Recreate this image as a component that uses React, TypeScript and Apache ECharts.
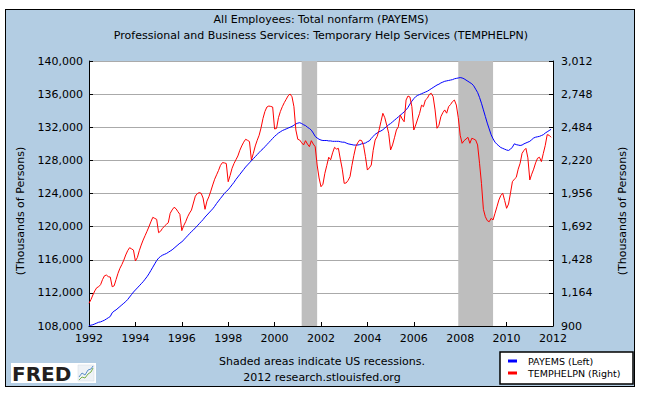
import React, { useEffect, useRef } from 'react';
import * as echarts from 'echarts';

const START_YEAR = 1992;

// PAYEMS, thousands of persons, monthly Jan 1992 .. Dec 2011 (left axis)
const payemsMonthly = [
  108050, 108100, 108150, 108250, 108350, 108450, 108500, 108600, 108700, 108850, 109000, 109150,
  109600, 109800, 109950, 110150, 110350, 110550, 110750, 110950, 111200, 111500, 111800, 112100,
  112350, 112600, 112850, 113100, 113350, 113650, 113950, 114300, 114700, 115100, 115500, 115900,
  116200, 116400, 116550, 116650, 116750, 116900, 117050, 117200, 117400, 117600, 117800, 118000,
  118150, 118400, 118650, 118900, 119150, 119400, 119600, 119850, 120100, 120350, 120600, 120850,
  121150, 121400, 121650, 121900, 122150, 122450, 122800, 123100, 123400, 123700, 124000, 124250,
  124450, 124750, 125050, 125350, 125700, 126000, 126300, 126600, 126900, 127200, 127450, 127700,
  127950, 128200, 128450, 128700, 128950, 129200, 129400, 129650, 129900, 130150, 130400, 130650,
  130900, 131100, 131300, 131450, 131600, 131700, 131800, 131900, 132000, 132100, 132250, 132400,
  132500, 132550, 132450, 132300, 132200, 132000, 131850, 131650, 131300, 130900, 130700, 130550,
  130450, 130400, 130400, 130400, 130350, 130350, 130300, 130300, 130300, 130300, 130250, 130200,
  130200, 130100, 130000, 129950, 129900, 129850, 129850, 129850, 129900, 130000, 130050, 130100,
  130250, 130350, 130650, 130900, 131150, 131300, 131450, 131550, 131700, 131900, 132100, 132300,
  132450, 132650, 132850, 133050, 133250, 133450, 133650, 133850, 134100, 134400, 134800, 135150,
  135450, 135700, 135850, 135950, 136050, 136150, 136250, 136350, 136500, 136650, 136800, 136950,
  137100, 137200, 137350, 137450, 137550, 137600, 137650, 137700, 137750, 137850, 137900, 137950,
  138000, 137950, 137850, 137700, 137550, 137400, 137250, 137000, 136600, 136200, 135600, 134900,
  134100, 133300, 132500, 131800, 131100, 130600, 130200, 129950, 129750, 129550, 129450, 129350,
  129250, 129200, 129350, 129600, 130000, 129900, 129850, 129800, 129850, 130000, 130100, 130200,
  130300, 130500, 130700, 130800, 130850, 130900, 131000, 131100, 131300, 131450, 131600, 131750,
];

// TEMPHELPN, thousands of persons, monthly Jan 1992 .. Dec 2011 (right axis)
const temphelpMonthly = [
  1081, 1110, 1147, 1180, 1205, 1213, 1230, 1270, 1300, 1306, 1293, 1290,
  1213, 1220, 1270, 1320, 1360, 1390, 1425, 1466, 1500, 1524, 1515, 1505,
  1418, 1445, 1500, 1545, 1585, 1620, 1655, 1691, 1730, 1766, 1758, 1750,
  1644, 1655, 1678, 1695, 1710, 1723, 1798, 1825, 1846, 1835, 1811, 1790,
  1660, 1700, 1731, 1770, 1800, 1824, 1880, 1935, 1955, 1963, 1958, 1920,
  1830, 1895, 1930, 1975, 2024, 2070, 2105, 2140, 2180, 2202, 2200, 2195,
  2050, 2100, 2157, 2195, 2225, 2255, 2300, 2335, 2365, 2388, 2380, 2370,
  2223, 2276, 2335, 2380, 2420, 2480, 2555, 2610, 2645, 2653, 2650, 2645,
  2470, 2475, 2560, 2610, 2648, 2680, 2707, 2735, 2749, 2727, 2648, 2462,
  2388, 2382, 2360, 2343, 2377, 2350, 2329, 2377, 2350, 2329, 2183, 2080,
  2010, 2030, 2117, 2180, 2245, 2225, 2280, 2324, 2310, 2316, 2230, 2150,
  2037, 2040, 2060, 2090, 2180, 2260, 2330, 2360, 2382, 2378, 2340, 2249,
  2143, 2160, 2183, 2300, 2382, 2409, 2460, 2528, 2595, 2560, 2500, 2436,
  2303, 2343, 2400, 2462, 2488, 2582, 2550, 2528, 2701, 2733, 2725, 2648,
  2462, 2502, 2550, 2595, 2660, 2648, 2701, 2715, 2745, 2755, 2728, 2622,
  2476, 2500, 2568, 2600, 2622, 2596, 2648, 2665, 2688, 2701, 2661, 2560,
  2420, 2356, 2377, 2390, 2404, 2356, 2396, 2390, 2382, 2343, 2197, 2037,
  1830, 1771, 1740, 1731, 1758, 1745, 1798, 1850, 1904, 1940, 1958, 1900,
  1838, 1872, 1958, 2050, 2070, 2085, 2150, 2197, 2276, 2300, 2316, 2240,
  2064, 2110, 2150, 2200, 2237, 2245, 2210, 2276, 2340, 2425, 2420, 2404,
];

const xTicks = [1992, 1994, 1996, 1998, 2000, 2002, 2004, 2006, 2008, 2010, 2012];
const leftTicks = [108000, 112000, 116000, 120000, 124000, 128000, 132000, 136000, 140000];
const rightTicks = [900, 1164, 1428, 1692, 1956, 2220, 2484, 2748, 3012];
// US recessions: Mar 2001 – Nov 2001, Dec 2007 – Jun 2009 (decimal years)
const recessions = [
  [2001 + 2 / 12, 2001 + 10 / 12],
  [2007 + 11 / 12, 2009 + 5 / 12],
];

const seriesNames = ['PAYEMS (Left)', 'TEMPHELPN (Right)'];
const seriesColors = ['#0000ff', '#ff0000'];

const FONT = '"DejaVu Sans", Verdana, sans-serif';

function toPoints(values: number[]) {
  return values.map((v, i) => [START_YEAR + i / 12, v]);
}

const fmt = (v: number) => Number(v).toLocaleString('en-US');

export default function App() {
  const ref = useRef<HTMLDivElement>(null);

  useEffect(() => {
    if (!ref.current) return;
    const chart = echarts.init(ref.current, undefined, { renderer: 'svg' });

    const axisText = { color: '#000', fontSize: 11, fontFamily: FONT };

    const option: any = {
      animation: false,
      grid: {
        left: 89,
        top: 61,
        width: 464,
        height: 265,
        show: true,
        backgroundColor: '#ffffff',
        borderWidth: 0,
      },
      xAxis: {
        type: 'value',
        min: xTicks[0],
        max: xTicks[xTicks.length - 1],
        interval: 2,
        axisLine: { show: true, onZero: false, lineStyle: { color: '#000', width: 1 } },
        axisTick: { show: true, inside: true, length: 4, lineStyle: { color: '#000' } },
        axisLabel: { ...axisText, margin: 7, formatter: (v: number) => String(v) },
        splitLine: { show: false },
      },
      yAxis: [
        {
          type: 'value',
          position: 'left',
          min: leftTicks[0],
          max: leftTicks[leftTicks.length - 1],
          interval: 4000,
          axisLine: { show: true, lineStyle: { color: '#000', width: 1 } },
          axisTick: { show: true, inside: true, length: 4, lineStyle: { color: '#000' } },
          axisLabel: { ...axisText, margin: 6, formatter: fmt },
          splitLine: { show: true, lineStyle: { color: '#aaaaaa', width: 1 } },
        },
        {
          type: 'value',
          position: 'right',
          min: rightTicks[0],
          max: rightTicks[rightTicks.length - 1],
          axisLine: { show: true, lineStyle: { color: '#000', width: 1 } },
          axisTick: {
            show: true,
            inside: true,
            length: 4,
            lineStyle: { color: '#000' },
            customValues: rightTicks,
          },
          axisLabel: { ...axisText, margin: 8, formatter: fmt, customValues: rightTicks },
          splitLine: { show: false },
        },
      ],
      series: [
        {
          name: seriesNames[0],
          type: 'line',
          yAxisIndex: 0,
          data: toPoints(payemsMonthly),
          showSymbol: false,
          symbol: 'none',
          lineStyle: { color: seriesColors[0], width: 1 },
          itemStyle: { color: seriesColors[0] },
          z: 3,
          markArea: {
            silent: true,
            itemStyle: { color: '#bebebe', opacity: 1 },
            data: recessions.map(([a, b]) => [{ xAxis: a }, { xAxis: b }]),
          },
        },
        {
          name: seriesNames[1],
          type: 'line',
          yAxisIndex: 1,
          data: toPoints(temphelpMonthly),
          showSymbol: false,
          symbol: 'none',
          lineStyle: { color: seriesColors[1], width: 1 },
          itemStyle: { color: seriesColors[1] },
          z: 4,
        },
      ],
      graphic: [
        {
          type: 'text',
          x: 321,
          y: 19,
          style: {
            text: 'All Employees: Total nonfarm (PAYEMS)',
            font: `11px ${FONT}`,
            fill: '#000',
            align: 'center',
            verticalAlign: 'middle',
          },
        },
        {
          type: 'text',
          x: 321,
          y: 35,
          style: {
            text: 'Professional and Business Services: Temporary Help Services (TEMPHELPN)',
            font: `11px ${FONT}`,
            fill: '#000',
            align: 'center',
            verticalAlign: 'middle',
          },
        },
        {
          type: 'text',
          x: 20,
          y: 211,
          rotation: Math.PI / 2,
          style: {
            text: '(Thousands of Persons)',
            font: `11px ${FONT}`,
            fill: '#000',
            align: 'center',
            verticalAlign: 'middle',
          },
        },
        {
          type: 'text',
          x: 622,
          y: 211,
          rotation: Math.PI / 2,
          style: {
            text: '(Thousands of Persons)',
            font: `11px ${FONT}`,
            fill: '#000',
            align: 'center',
            verticalAlign: 'middle',
          },
        },
        {
          type: 'text',
          x: 322,
          y: 361,
          style: {
            text: 'Shaded areas indicate US recessions.',
            font: `11px ${FONT}`,
            fill: '#000',
            align: 'center',
            verticalAlign: 'middle',
          },
        },
        {
          type: 'text',
          x: 322,
          y: 377,
          style: {
            text: '2012 research.stlouisfed.org',
            font: `11px ${FONT}`,
            fill: '#000',
            align: 'center',
            verticalAlign: 'middle',
          },
        },
        // legend box
        {
          type: 'rect',
          shape: { x: 500, y: 352, width: 133, height: 32 },
          style: { fill: '#ffffff', stroke: '#000', lineWidth: 1.5 },
        },
        ...seriesNames.flatMap((name, i) => [
          {
            type: 'rect',
            shape: { x: 508, y: 359.5 + i * 12, width: 9, height: 3 },
            style: { fill: seriesColors[i] },
          },
          {
            type: 'text',
            x: 528,
            y: 361 + i * 12,
            style: {
              text: name,
              font: `9.5px ${FONT}`,
              fill: '#000',
              align: 'left',
              verticalAlign: 'middle',
            },
          },
        ]),
        // FRED logo
        {
          type: 'rect',
          shape: { x: 11, y: 363, width: 85, height: 20 },
          style: { fill: '#ffffff' },
        },
        {
          type: 'text',
          x: 12,
          y: 374,
          style: {
            text: 'FRED',
            font: `bold 20px ${FONT}`,
            fill: '#231f20',
            align: 'left',
            verticalAlign: 'middle',
          },
        },
        {
          type: 'rect',
          shape: { x: 78, y: 365, width: 16, height: 16 },
          style: { fill: '#eef2f6', stroke: '#d0d8e0', lineWidth: 0.5 },
        },
        {
          type: 'polyline',
          shape: { points: [[79, 380], [82, 377], [85, 378], [88, 374], [91, 372], [93, 368]] },
          style: { stroke: '#7ab04a', lineWidth: 1, fill: 'none' },
        },
        {
          type: 'polyline',
          shape: { points: [[79, 377], [82, 373], [85, 375], [88, 370], [91, 369], [93, 366]] },
          style: { stroke: '#5b8fc8', lineWidth: 1, fill: 'none' },
        },
      ],
    };

    chart.setOption(option);
    return () => chart.dispose();
  }, []);

  return (
    <div style={{ position: 'absolute', left: 0, top: 0, width: 646, height: 397, background: '#ffffff' }}>
      <div
        style={{
          position: 'absolute',
          left: 5.25,
          top: 9.25,
          width: 630,
          height: 378,
          background: '#b3cde3',
          border: '1.5px solid #000',
          boxSizing: 'border-box',
        }}
      />
      <div ref={ref} style={{ position: 'absolute', left: 0, top: 0, width: 646, height: 397 }} />
    </div>
  );
}
